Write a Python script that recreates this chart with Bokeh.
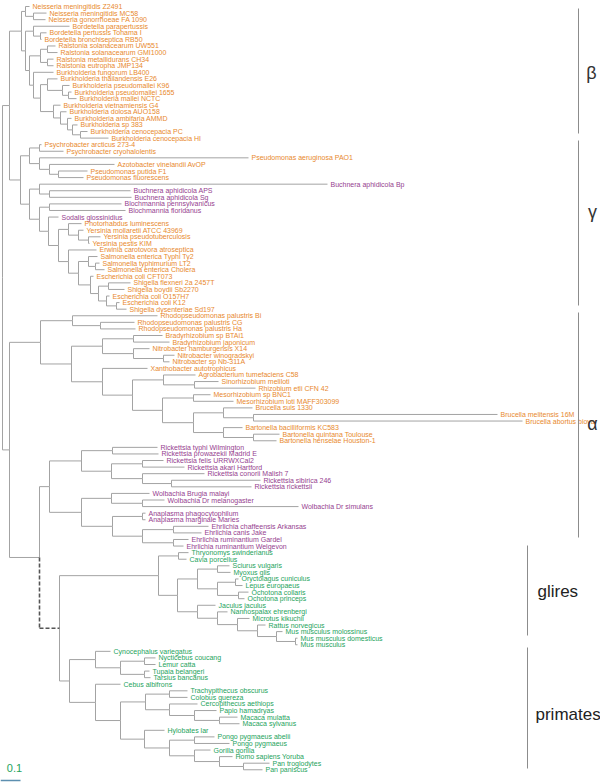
from bokeh.plotting import figure
from bokeh.models import ColumnDataSource, Range1d
from bokeh.embed import file_html
from bokeh.resources import INLINE
from bokeh.core.properties import value

try:
    from bokeh.models import GlobalInlineStyleSheet
except Exception:
    GlobalInlineStyleSheet = None

# ---------------- data: internal nodes (id, parent, depth in subst./site) -------------
BETA_NODES = [
    ("root", None, 0.01), ("bg", "root", 0.045), ("beta", "bg", 0.105),
    ("nei", "beta", 0.125), ("nei2", "nei", 0.165), ("brb", "beta", 0.125),
    ("bord", "brb", 0.165), ("bord2", "bord", 0.20), ("rb", "brb", 0.145),
    ("ral", "rb", 0.20), ("ral1", "ral", 0.235), ("ral2", "ral", 0.235),
    ("bur", "rb", 0.165), ("bur2", "bur", 0.20), ("bur3", "bur2", 0.235),
    ("bur4", "bur3", 0.31), ("bur4b", "bur4", 0.34), ("bur5", "bur2", 0.265),
    ("bur6", "bur5", 0.30), ("bur7", "bur6", 0.335), ("bur8", "bur7", 0.36),
    ("bur9", "bur8", 0.40),
]
GAMMA_NODES = [
    ("gam", "bg", 0.10), ("pse", "gam", 0.145), ("psy", "pse", 0.195),
    ("psm", "pse", 0.195), ("azo", "psm", 0.245), ("pfl", "azo", 0.29),
    ("ent0", "gam", 0.145), ("buc", "ent0", 0.195), ("buc2", "buc", 0.245),
    ("ent1", "ent0", 0.195), ("blo", "ent1", 0.245), ("ent2", "ent1", 0.24),
    ("ent3", "ent2", 0.29), ("pho", "ent3", 0.34), ("yer", "pho", 0.39),
    ("yer2", "yer", 0.44), ("ers", "ent3", 0.34), ("sec", "ers", 0.39),
    ("sal", "sec", 0.44), ("sal2", "sal", 0.475), ("eco", "sec", 0.45),
    ("eco1", "eco", 0.49), ("shi", "eco1", 0.54), ("eco2", "eco1", 0.53),
    ("eco3", "eco2", 0.58),
]
ALPHA_NODES = [
    ("alp", "root", 0.045), ("a0", "alp", 0.20), ("rho", "a0", 0.36),
    ("rho2", "rho", 0.50), ("x71", "a0", 0.355), ("bn", "x71", 0.51),
    ("bra", "bn", 0.665), ("nit", "bn", 0.665), ("nit2", "nit", 0.815),
    ("xr", "x71", 0.51), ("rhz", "xr", 0.66), ("agr", "rhz", 0.815),
    ("sr", "agr", 0.97), ("mbb", "rhz", 0.81), ("mes", "mbb", 0.965),
    ("bb", "mbb", 0.965), ("bru", "bb", 1.115), ("bru2", "bru", 1.265),
    ("bar", "bb", 1.115), ("bar2", "bar", 1.265),
    ("m0", "alp", 0.195), ("rk0", "m0", 0.245), ("ric", "rk0", 0.405),
    ("tg", "ric", 0.56), ("sfg", "ric", 0.555), ("fa", "sfg", 0.71),
    ("csr", "sfg", 0.71), ("sr2", "csr", 0.855), ("awe", "rk0", 0.405),
    ("wol", "awe", 0.555), ("wd", "wol", 0.71), ("ae", "awe", 0.56),
    ("ana", "ae", 0.71), ("ehr", "ae", 0.71), ("cc", "ehr", 0.865),
    ("rum", "ehr", 0.865),
]
MITO_NODES = [
    ("mito", "m0", 0.295), ("gli", "mito", 0.79), ("hys", "gli", 0.89),
    ("glr", "gli", 0.885), ("slo", "glr", 0.985), ("sci", "slo", 1.085),
    ("lag", "slo", 1.085), ("lep", "lag", 1.175), ("och", "lag", 1.19),
    ("mr", "glr", 0.985), ("mur", "mr", 1.085), ("mur2", "mur", 1.185),
    ("mur3", "mur2", 1.285), ("mus", "mur3", 1.38), ("mus2", "mus", 1.475),
    ("pri", "mito", 0.345), ("prb", "pri", 0.475), ("pra", "prb", 0.60),
    ("nl", "pra", 0.72), ("tt", "pra", 0.72), ("ant", "pri", 0.475),
    ("cat", "ant", 0.60), ("owm", "cat", 0.725), ("col", "owm", 0.845),
    ("cer", "owm", 0.845), ("pap", "cer", 0.97), ("mac", "pap", 1.095),
    ("ape", "cat", 0.72), ("ga", "ape", 0.845), ("pon", "ga", 0.97),
    ("af", "ga", 0.97), ("hp", "af", 1.095), ("pan", "hp", 1.215),
]
DASHED_BRANCHES = ["mito"]

# ---------------- data: leaves in display order (name, parent, depth) ----------------
BETA_LEAVES = [
    ("Neisseria meningitidis Z2491", "nei", 0.145),
    ("Neisseria meningitidis MC58", "nei2", 0.23),
    ("Neisseria gonorrhoeae FA 1090", "nei2", 0.225),
    ("Bordetella parapertussis", "bord", 0.345),
    ("Bordetella pertussis Tohama I", "bord2", 0.23),
    ("Bordetella bronchiseptica RB50", "bord2", 0.205),
    ("Ralstonia solanacearum UW551", "ral1", 0.275),
    ("Ralstonia solanacearum GMI1000", "ral1", 0.285),
    ("Ralstonia metallidurans CH34", "ral2", 0.265),
    ("Ralstonia eutropha JMP134", "ral2", 0.265),
    ("Burkholderia fungorum LB400", "bur", 0.265),
    ("Burkholderia thailandensis E26", "bur3", 0.285),
    ("Burkholderia pseudomallei K96", "bur4", 0.345),
    ("Burkholderia pseudomallei 1655", "bur4b", 0.355),
    ("Burkholderia mallei NCTC", "bur4b", 0.38),
    ("Burkholderia vietnamiensis G4", "bur5", 0.30),
    ("Burkholderia dolosa AUO158", "bur6", 0.33),
    ("Burkholderia ambifaria AMMD", "bur7", 0.355),
    ("Burkholderia sp 383", "bur8", 0.385),
    ("Burkholderia cenocepacia PC", "bur9", 0.435),
    ("Burkholderia cenocepacia HI", "bur9", 0.54),
]
GAMMA_LEAVES = [
    ("Psychrobacter arcticus 273-4", "psy", 0.205),
    ("Psychrobacter cryohalolentis", "psy", 0.315),
    ("Pseudomonas aeruginosa PAO1", "psm", 1.24),
    ("Azotobacter vinelandii AvOP", "azo", 0.57),
    ("Pseudomonas putida F1", "pfl", 0.435),
    ("Pseudomonas fluorescens", "pfl", 0.415),
    ("Buchnera aphidicola Bp", "buc", 1.635),
    ("Buchnera aphidicola APS", "buc2", 0.65),
    ("Buchnera aphidicola Sg", "buc2", 0.655),
    ("Blochmannia pennsylvanicus", "blo", 0.605),
    ("Blochmannia floridanus", "blo", 0.625),
    ("Sodalis glossinidius", "ent2", 0.29),
    ("Photorhabdus luminescens", "pho", 0.405),
    ("Yersinia mollaretii ATCC 43969", "yer", 0.415),
    ("Yersinia pseudotuberculosis", "yer2", 0.50),
    ("Yersinia pestis KIM", "yer2", 0.445),
    ("Erwinia carotovora atroseptica", "ers", 0.48),
    ("Salmonella enterica Typhi Ty2", "sal", 0.485),
    ("Salmonella typhimurium LT2", "sal2", 0.495),
    ("Salmonella enterica Cholera", "sal2", 0.52),
    ("Escherichia coli CFT073", "eco", 0.465),
    ("Shigella flexneri 2a 2457T", "shi", 0.65),
    ("Shigella boydii Sb2270", "shi", 0.62),
    ("Escherichia coli O157H7", "eco2", 0.545),
    ("Escherichia coli K12", "eco3", 0.595),
    ("Shigella dysenteriae Sd197", "eco3", 0.63),
]
ALPHA_LEAVES = [
    ("Rhodopseudomonas palustris Bi", "rho", 0.785),
    ("Rhodopseudomonas palustris CG", "rho2", 0.67),
    ("Rhodopseudomonas palustris Ha", "rho2", 0.675),
    ("Bradyrhizobium sp BTAi1", "bra", 0.81),
    ("Bradyrhizobium japonicum", "bra", 0.845),
    ("Nitrobacter hamburgensis X14", "nit", 0.745),
    ("Nitrobacter winogradskyi", "nit2", 0.87),
    ("Nitrobacter sp Nb-311A", "nit2", 0.845),
    ("Xanthobacter autotrophicus", "xr", 0.735),
    ("Agrobacterium tumefaciens C58", "agr", 0.975),
    ("Sinorhizobium meliloti", "sr", 1.09),
    ("Rhizobium etli CFN 42", "sr", 1.275),
    ("Mesorhizobium sp BNC1", "mes", 1.05),
    ("Mesorhizobium loti MAFF303099", "mes", 1.165),
    ("Brucella suis 1330", "bru", 1.26),
    ("Brucella melitensis 16M", "bru2", 2.485),
    ("Brucella abortus biovar", "bru2", 2.61),
    ("Bartonella bacilliformis KC583", "bar", 1.21),
    ("Bartonella quintana Toulouse", "bar2", 1.395),
    ("Bartonella henselae Houston-1", "bar2", 1.38),
    ("Rickettsia typhi Wilmington", "tg", 0.785),
    ("Rickettsia prowazekii Madrid E", "tg", 0.79),
    ("Rickettsia felis URRWXCal2", "fa", 0.815),
    ("Rickettsia akari Hartford", "fa", 0.92),
    ("Rickettsia conorii Malish 7", "csr", 1.02),
    ("Rickettsia sibirica 246", "sr2", 1.30),
    ("Rickettsia rickettsii", "sr2", 1.255),
    ("Wolbachia Brugia malayi", "wol", 0.745),
    ("Wolbachia Dr melanogaster", "wd", 0.82),
    ("Wolbachia Dr simulans", "wd", 1.49),
    ("Anaplasma phagocytophilum", "ana", 0.725),
    ("Anaplasma marginale Maries", "ana", 0.725),
    ("Ehrlichia chaffeensis Arkansas", "cc", 1.04),
    ("Ehrlichia canis Jake", "cc", 1.005),
    ("Ehrlichia ruminantium Gardel", "rum", 0.94),
    ("Ehrlichia ruminantium Welgevon", "rum", 0.915),
]
GLIRES_LEAVES = [
    ("Thryonomys swinderianus", "hys", 0.94),
    ("Cavia porcellus", "hys", 0.93),
    ("Sciurus vulgaris", "sci", 1.145),
    ("Myoxus glis", "sci", 1.15),
    ("Oryctolagus cuniculus", "lep", 1.19),
    ("Lepus europaeus", "lep", 1.21),
    ("Ochotona collaris", "och", 1.24),
    ("Ochotona princeps", "och", 1.22),
    ("Jaculus jaculus", "mr", 1.075),
    ("Nannospalax ehrenbergi", "mur", 1.135),
    ("Microtus kikuchii", "mur2", 1.245),
    ("Rattus norvegicus", "mur3", 1.325),
    ("Mus musculus molossinus", "mus", 1.41),
    ("Mus musculus domesticus", "mus2", 1.485),
    ("Mus musculus", "mus2", 1.485),
]
PRIMATE_LEAVES = [
    ("Cynocephalus variegatus", "prb", 0.55),
    ("Nycticebus coucang", "nl", 0.775),
    ("Lemur catta", "nl", 0.775),
    ("Tupaia belangeri", "tt", 0.745),
    ("Tarsius bancanus", "tt", 0.75),
    ("Cebus albifrons", "ant", 0.60),
    ("Trachypithecus obscurus", "col", 0.935),
    ("Colobus guereza", "col", 0.935),
    ("Cercopithecus aethiops", "cer", 0.985),
    ("Papio hamadryas", "pap", 1.08),
    ("Macaca mulatta", "mac", 1.185),
    ("Macaca sylvanus", "mac", 1.195),
    ("Hylobates lar", "ape", 0.82),
    ("Pongo pygmaeus abelii", "pon", 1.07),
    ("Pongo pygmaeus", "pon", 1.145),
    ("Gorilla gorilla", "af", 1.05),
    ("Homo sapiens Yoruba", "hp", 1.16),
    ("Pan troglodytes", "pan", 1.345),
    ("Pan paniscus", "pan", 1.31),
]
HOST_ASSOCIATED_GENERA = ["Buchnera", "Blochmannia", "Sodalis", "Rickettsia",
                          "Wolbachia", "Anaplasma", "Ehrlichia"]
CLADE_NAMES = ["β", "γ", "α", "glires", "primates"]
SCALE_BAR_LENGTH = 0.1

# ---------------- build tree geometry ----------------
INTERNAL = BETA_NODES + GAMMA_NODES + ALPHA_NODES + MITO_NODES
BACTERIA = BETA_LEAVES + GAMMA_LEAVES + ALPHA_LEAVES
MAMMALS = GLIRES_LEAVES + PRIMATE_LEAVES
LEAVES = BACTERIA + MAMMALS

parent, depth, children, ypos = {}, {}, {}, {}
for nid, par, d in INTERNAL:
    parent[nid] = par
    depth[nid] = d
    children.setdefault(nid, [])
    if par is not None:
        children.setdefault(par, []).append(nid)
for i, (name, par, d) in enumerate(LEAVES):
    parent[name] = par
    depth[name] = d
    ypos[name] = float(i)
    children.setdefault(par, []).append(name)


def node_y(n):
    if n in ypos:
        return ypos[n]
    ys = [node_y(c) for c in children[n]]
    ypos[n] = (min(ys) + max(ys)) / 2.0
    return ypos[n]


node_y("root")

solid = dict(x0=[], y0=[], x1=[], y1=[])
dashed = dict(x0=[], y0=[], x1=[], y1=[])
for n, par in parent.items():
    if par is None:
        continue
    tgt = dashed if n in DASHED_BRANCHES else solid
    tgt["x0"].append(depth[par]); tgt["y0"].append(ypos[par])
    tgt["x1"].append(depth[par]); tgt["y1"].append(ypos[n])
    tgt["x0"].append(depth[par]); tgt["y0"].append(ypos[n])
    tgt["x1"].append(depth[n]); tgt["y1"].append(ypos[n])

# ---------------- styling / layout ----------------
W, H = 600, 782
PX_PER_UNIT = 200.0          # 0.1 subst./site = 20 px
ROW_PX, ROW0_PX = 6.58, 6.0  # leaf spacing


def xd(px):
    return px / PX_PER_UNIT


def yd(px):
    return (px - ROW0_PX) / ROW_PX


ORANGE, PURPLE, GREEN = "#e8892e", "#96418f", "#25a35c"
BRANCH = "#a3a3a3"

mammal_names = set(n for n, _, _ in MAMMALS)
leaf_colors = []
for name, _, _ in LEAVES:
    if name in mammal_names:
        leaf_colors.append(GREEN)
    elif name.split()[0] in HOST_ASSOCIATED_GENERA:
        leaf_colors.append(PURPLE)
    else:
        leaf_colors.append(ORANGE)

kw = dict(width=W, height=H, output_backend="svg", toolbar_location=None,
          x_range=Range1d(xd(0), xd(W)), y_range=Range1d(yd(H), yd(0)),
          min_border=0, x_axis_location=None, y_axis_location=None,
          outline_line_color=None, background_fill_color="white",
          border_fill_color="white")
if GlobalInlineStyleSheet is not None:
    kw["stylesheets"] = [GlobalInlineStyleSheet(css="html,body{margin:0!important;padding:0;overflow:hidden;}")]
p = figure(**kw)
p.grid.visible = False

p.segment("x0", "y0", "x1", "y1", source=ColumnDataSource(solid),
          line_color=BRANCH, line_width=1)
p.segment("x0", "y0", "x1", "y1", source=ColumnDataSource(dashed),
          line_color="#555555", line_width=1.6, line_dash="4 2")

leaf_src = ColumnDataSource(dict(
    x=[d for _, _, d in LEAVES], y=[ypos[n] for n, _, _ in LEAVES],
    name=[n for n, _, _ in LEAVES], color=leaf_colors))
p.text("x", "y", text="name", source=leaf_src, text_color="color",
       text_font=value("Liberation Sans"), text_font_size="7px",
       text_baseline="alphabetic", text_align="left", x_offset=3)

bars_px = [(578, 8, 133), (578, 140, 305), (578, 312, 537), (527, 545, 635), (527, 647, 768)]
p.segment([xd(b[0]) for b in bars_px], [yd(b[1]) for b in bars_px],
          [xd(b[0]) for b in bars_px], [yd(b[2]) for b in bars_px],
          line_color="#8c8c8c", line_width=1)
greek_px = [(591, 72), (592, 211), (592, 423)]
p.text([xd(g[0]) for g in greek_px], [yd(g[1]) for g in greek_px], text=CLADE_NAMES[:3],
       text_font=value("Liberation Sans"), text_font_size="18px",
       text_color="#333333", text_align="center", text_baseline="middle")
word_px = [(537, 591), (535, 714)]
p.text([xd(g[0]) for g in word_px], [yd(g[1]) for g in word_px], text=CLADE_NAMES[3:],
       text_font=value("Liberation Sans"), text_font_size="17px",
       text_color="#222222", text_align="left", text_baseline="middle")

p.segment([0.0], [yd(780)], [SCALE_BAR_LENGTH], [yd(780)], line_color="#5d8fb0", line_width=1.5)
p.text([SCALE_BAR_LENGTH * 0.7], [yd(767)], text=[str(SCALE_BAR_LENGTH)],
       text_font=value("Liberation Sans"), text_font_size="11px",
       text_color=GREEN, text_align="center", text_baseline="middle")

open("out.html", "w").write(file_html(p, INLINE))
